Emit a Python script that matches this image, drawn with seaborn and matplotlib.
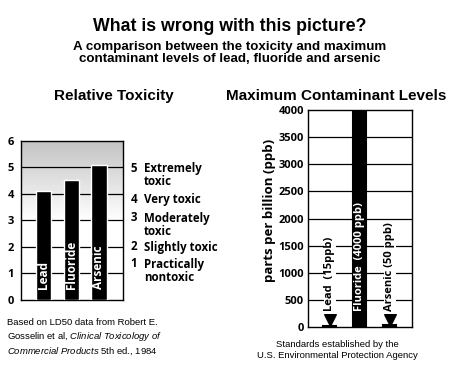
import numpy as np
import pandas as pd
import matplotlib
matplotlib.use("Agg")
import matplotlib.pyplot as plt
import seaborn as sns

# 数据
elements = ["Lead", "Fluoride", "Arsenic"]
toxicity = [4.1, 4.52, 5.08]          # relative toxicity (LD50 scale)
mcl_ppb = [15, 4000, 50]              # maximum contaminant level, ppb
mcl_labels = ["Lead  (15ppb)", "Fluoride  (4000 ppb)", "Arsenic (50 ppb)"]
scale_nums = ["5", "4", "3", "2", "1"]
scale_text = ["Extremely\ntoxic", "Very toxic", "Moderately\ntoxic",
              "Slightly toxic", "Practically\nnontoxic"]
scale_pos = [4.97, 3.8, 3.09, 2.0, 1.36]

sns.set_style("white")
plt.rcParams['font.family'] = ['Liberation Sans', 'DejaVu Sans']
plt.rcParams['text.color'] = 'black'
plt.rcParams['ytick.color'] = 'black'
plt.rcParams['xtick.color'] = 'black'
plt.rcParams['axes.labelcolor'] = 'black'
plt.rcParams['mathtext.fontset'] = 'custom'
plt.rcParams['mathtext.rm'] = 'Liberation Sans'
plt.rcParams['mathtext.it'] = 'Liberation Sans:italic'
lab_font = ['Open Sans', 'DejaVu Sans']

fig = plt.figure(figsize=(4.63, 3.82), dpi=100)
fig.patch.set_facecolor("white")

# 标题
fig.text(0.497, 0.93, "What is wrong with this picture?", ha="center", va="center",
         fontsize=12.8, fontweight="bold")
fig.text(0.497, 0.861, "A comparison between the toxicity and maximum\ncontaminant levels of lead, fluoride and arsenic",
         ha="center", va="center", fontsize=9.6, fontweight="bold", linespacing=1.05)

# ---- 左图 Relative Toxicity ----
ax1 = fig.add_axes([0.0447, 0.2147, 0.2216, 0.417])
df1 = pd.DataFrame({"element": elements, "tox": toxicity})
sns.barplot(data=df1, x="element", y="tox", color="black", width=0.55,
            saturation=1, ax=ax1, zorder=3)
ax1.set_xlim(-0.82, 2.88)
ax1.set_ylim(0, 6)
grad = np.linspace(1, 0, 256).reshape(-1, 1)
cmap = matplotlib.colors.LinearSegmentedColormap.from_list("g", ["white", "white", "#c2c2c2"])
ax1.imshow(grad, extent=(-0.82, 2.88, 0, 6), aspect="auto", cmap=cmap, zorder=0)
for v in range(1, 6):
    ax1.axhline(v, color="black", lw=0.9, zorder=1)
ax1.set_yticks(range(0, 7))
ax1.set_yticklabels([str(v) for v in range(0, 7)], fontweight="bold", fontsize=8, family=lab_font)
ax1.tick_params(axis="y", length=0, pad=5)
ax1.set_xticks([])
ax1.set_xlabel("")
ax1.set_ylabel("")
for s in ax1.spines.values():
    s.set_color("black")
    s.set_linewidth(1)
for i, name in enumerate(elements):
    ax1.text(i, 0.4, name, rotation=90, ha="center", va="bottom", color="white",
             fontweight="bold", fontsize=8.5, family=lab_font, zorder=4)
for n, t, p in zip(scale_nums, scale_text, scale_pos):
    ax1.text(1.07, p / 6, n, transform=ax1.transAxes, ha="left", va="center",
             fontweight="bold", fontsize=8.3, family=lab_font)
    ax1.text(1.2, p / 6 + 0.036, t, transform=ax1.transAxes, ha="left", va="top",
             fontweight="bold", fontsize=8.3, family=lab_font, linespacing=1.0)
fig.text(0.246, 0.749, "Relative Toxicity", ha="center", va="center",
         fontsize=11, fontweight="bold")

# ---- 右图 Maximum Contaminant Levels ----
ax2 = fig.add_axes([0.6652, 0.1432, 0.224, 0.5689])
df2 = pd.DataFrame({"element": elements, "ppb": mcl_ppb})
sns.barplot(data=df2, x="element", y="ppb", color="black", width=0.44,
            saturation=1, ax=ax2, zorder=3, edgecolor="black", linewidth=1.5)
ax2.set_xlim(-0.73, 2.73)
ax2.set_ylim(0, 4000)
for v in range(500, 4000, 500):
    ax2.axhline(v, color="black", lw=0.9, zorder=1)
ax2.set_yticks(range(0, 4001, 500))
ax2.set_yticklabels([str(v) for v in range(0, 4001, 500)], fontweight="bold", fontsize=8, family=lab_font)
ax2.tick_params(axis="y", length=0, pad=3)
ax2.set_xticks([])
ax2.set_xlabel("")
ax2.set_ylabel("")
for s in ax2.spines.values():
    s.set_color("black")
    s.set_linewidth(1)
for i, lab in enumerate(mcl_labels):
    big = mcl_ppb[i] > 1000
    ax2.text(i, 300, lab, rotation=90, ha="center", va="bottom",
             color="white" if big else "black", fontweight="bold", fontsize=8,
             family=lab_font, zorder=4,
             bbox=None if big else dict(facecolor="white", edgecolor="none", pad=0.5))
    if not big:
        ax2.scatter([i], [140], marker="v", s=70, color="black", zorder=4, clip_on=False)
fig.text(0.583, 0.45, "parts per billion (ppb)", rotation=90, ha="center", va="center",
         fontsize=9.5, fontweight="bold", family=lab_font)
fig.text(0.727, 0.749, "Maximum Contaminant Levels", ha="center", va="center",
         fontsize=11, fontweight="bold")

# 脚注
fig.text(0.015, 0.116,
         "Based on LD50 data from Robert E.\n"
         r"Gosselin et al, $\mathit{Clinical\ Toxicology\ of}$" "\n"
         r"$\mathit{Commercial\ Products}$ 5th ed., 1984",
         ha="left", va="center", fontsize=6.8, linespacing=1.3)
fig.text(0.729, 0.083, "Standards established by the\nU.S. Environmental Protection Agency",
         ha="center", va="center", fontsize=6.8, linespacing=1.3)

plt.savefig("out.png", dpi=100)
